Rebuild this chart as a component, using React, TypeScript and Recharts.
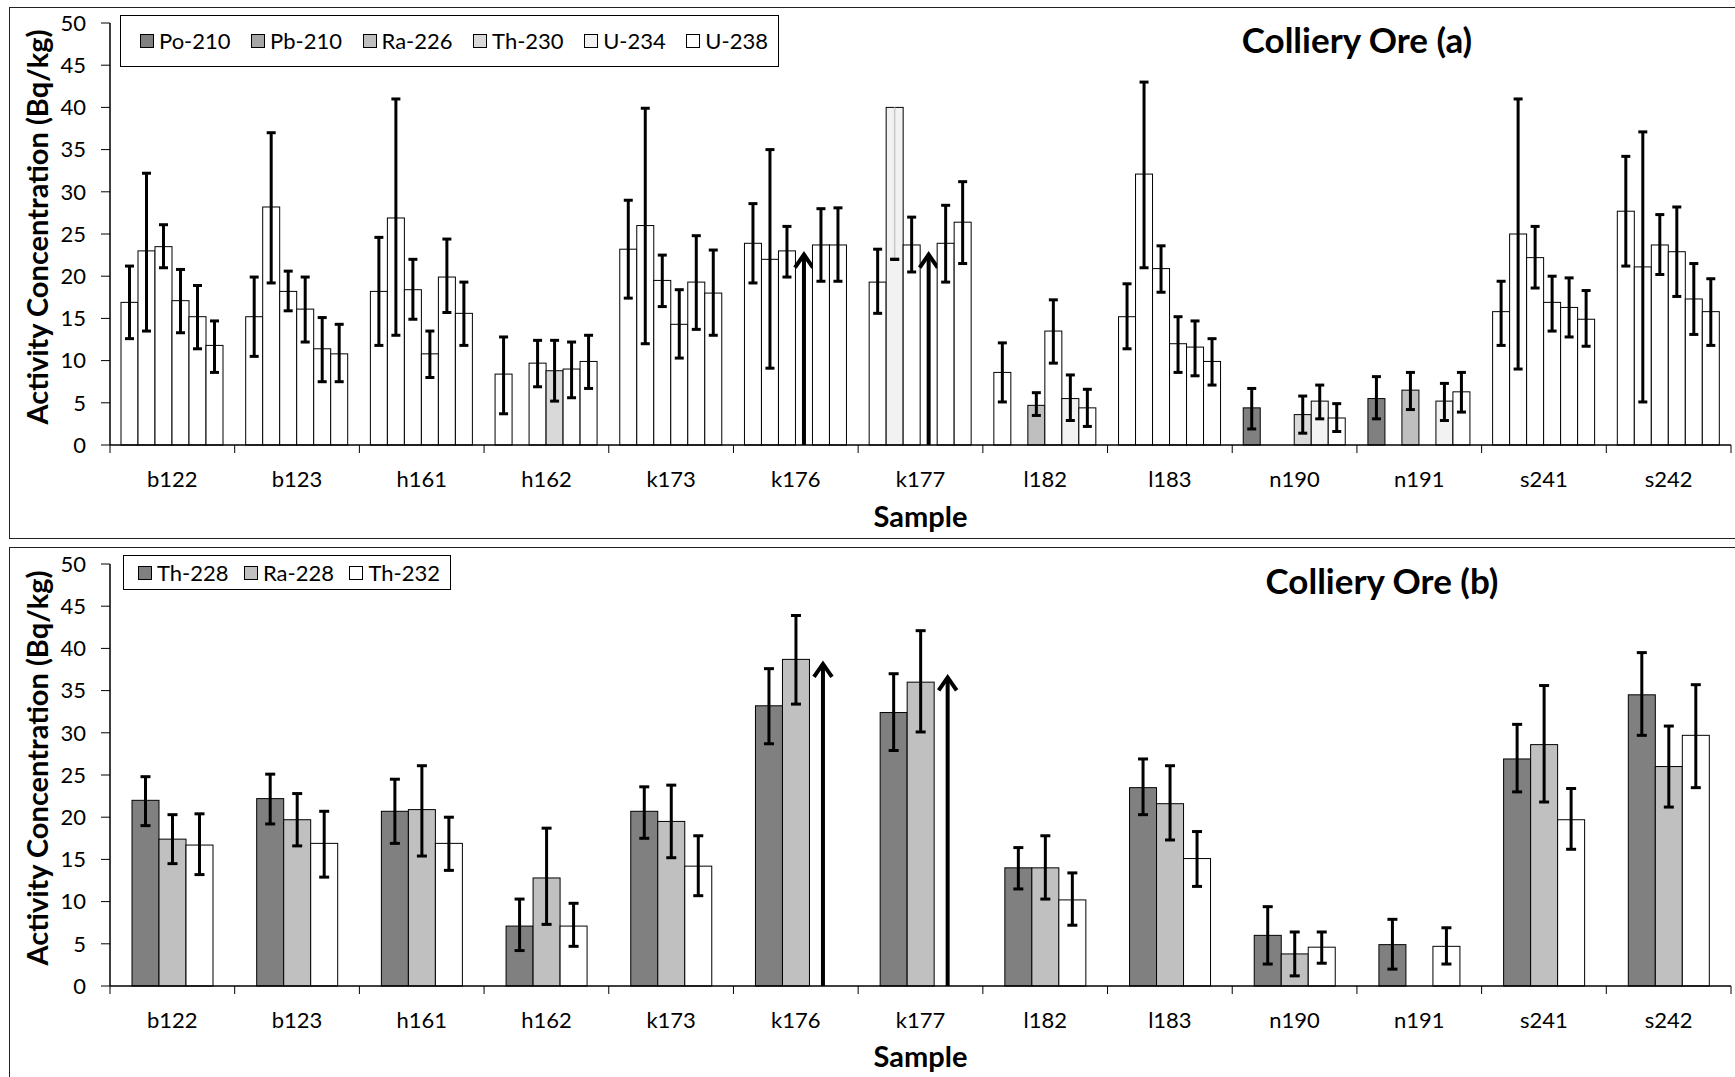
import React from 'react';
import { BarChart, Bar, XAxis, YAxis, ErrorBar } from 'recharts';

const FONT = 'Lato, "Open Sans", sans-serif';

const samples = ['b122', 'b123', 'h161', 'h162', 'k173', 'k176', 'k177', 'l182', 'l183', 'n190', 'n191', 's241', 's242'];
const yTicks = [0, 5, 10, 15, 20, 25, 30, 35, 40, 45, 50];

// (a) activity in Bq/kg: bar value, then lower / upper end of its error bar
const po210 = [16.9, 15.2, 18.2, 8.4, 23.2, 23.9, 19.3, 8.6, 15.2, 4.4, 5.5, 15.8, 27.7];
const po210Lo = [12.6, 10.5, 11.8, 3.7, 17.4, 19.2, 15.6, 5.1, 11.4, 1.9, 3.1, 11.8, 21.2];
const po210Hi = [21.2, 19.9, 24.6, 12.8, 29.0, 28.6, 23.2, 12.1, 19.1, 6.7, 8.1, 19.4, 34.2];

const pb210 = [23.0, 28.2, 26.9, null, 26.0, 22.0, 40.0, null, 32.1, null, null, 25.0, 21.1];
const pb210Lo = [13.5, 19.2, 13.0, null, 12.0, 9.1, 22.0, null, 21.0, null, null, 9.0, 5.1];
const pb210Hi = [32.2, 37.0, 41.0, null, 39.9, 35.0, 40.0, null, 43.0, null, null, 41.0, 37.1];

const ra226 = [23.5, 18.2, 18.4, 9.7, 19.5, 23.0, 23.7, 4.7, 20.9, null, 6.5, 22.2, 23.7];
const ra226Lo = [21.0, 15.9, 14.9, 6.9, 16.4, 19.9, 20.5, 3.5, 18.1, null, 4.2, 18.6, 20.2];
const ra226Hi = [26.1, 20.6, 22.0, 12.4, 22.5, 25.9, 27.0, 6.2, 23.6, null, 8.6, 25.9, 27.3];

const th230 = [17.1, 16.1, 10.8, 8.8, 14.3, null, null, 13.5, 12.0, 3.6, null, 16.9, 22.9];
const th230Lo = [13.3, 12.2, 8.0, 5.2, 10.3, null, null, 9.7, 8.6, 1.4, null, 13.5, 17.6];
const th230Hi = [20.8, 19.9, 13.5, 12.4, 18.4, null, null, 17.2, 15.2, 5.8, null, 20.0, 28.2];
// lower limits drawn as arrows
const th230Arrow = [null, null, null, null, null, 22.8, 22.8, null, null, null, null, null, null];

const u234 = [15.2, 11.4, 19.9, 9.0, 19.3, 23.7, 23.9, 5.5, 11.6, 5.2, 5.2, 16.3, 17.3];
const u234Lo = [11.4, 7.5, 15.7, 5.6, 13.7, 19.4, 19.3, 2.9, 8.2, 3.1, 2.9, 12.8, 13.1];
const u234Hi = [18.9, 15.1, 24.4, 12.2, 24.8, 28.0, 28.4, 8.3, 14.7, 7.1, 7.3, 19.8, 21.5];

const u238 = [11.8, 10.8, 15.6, 9.9, 18.0, 23.7, 26.4, 4.4, 9.9, 3.2, 6.3, 14.9, 15.8];
const u238Lo = [8.6, 7.5, 11.8, 6.7, 13.0, 19.4, 21.5, 2.2, 7.1, 1.6, 3.9, 11.7, 11.8];
const u238Hi = [14.7, 14.3, 19.3, 13.0, 23.1, 28.1, 31.2, 6.6, 12.6, 4.9, 8.6, 18.3, 19.7];

// (b) thorium series
const th228 = [22.0, 22.2, 20.7, 7.1, 20.7, 33.2, 32.4, 14.0, 23.5, 6.0, 4.9, 26.9, 34.5];
const th228Lo = [19.0, 19.2, 16.9, 4.2, 17.5, 28.7, 27.9, 11.5, 20.3, 2.6, 2.0, 23.0, 29.7];
const th228Hi = [24.8, 25.1, 24.5, 10.3, 23.6, 37.6, 37.0, 16.4, 26.9, 9.4, 7.9, 31.0, 39.5];

const ra228 = [17.4, 19.7, 20.9, 12.8, 19.5, 38.7, 36.0, 14.0, 21.6, 3.8, null, 28.6, 26.0];
const ra228Lo = [14.5, 16.6, 15.4, 7.3, 15.2, 33.4, 30.1, 10.3, 17.3, 1.2, null, 21.8, 21.2];
const ra228Hi = [20.3, 22.8, 26.1, 18.7, 23.8, 43.9, 42.1, 17.8, 26.1, 6.4, null, 35.6, 30.8];

const th232 = [16.7, 16.9, 16.9, 7.1, 14.2, null, null, 10.2, 15.1, 4.6, 4.7, 19.7, 29.7];
const th232Lo = [13.2, 12.9, 13.7, 4.7, 10.7, null, null, 7.2, 11.8, 2.7, 2.6, 16.2, 23.5];
const th232Hi = [20.4, 20.7, 20.0, 9.8, 17.8, null, null, 13.4, 18.3, 6.4, 6.9, 23.4, 35.7];
const th232Arrow = [null, null, null, null, null, 38.4, 36.8, null, null, null, null, null, null];

// in (a) most bars are drawn white; these samples keep the legend shade
const poShaded = ['n190', 'n191'];
const raShaded = ['l182', 'n191'];
const thShaded = ['h162', 'n190'];
const u234Shaded = ['l182', 'n190', 'n191'];
const pbPale = ['k177'];

const C = {
  po: '#808080', pb: '#a6a6a6', ra: '#bfbfbf', th: '#d9d9d9', u4: '#f2f2f2', u8: '#ffffff',
  th228: '#808080', ra228: '#c0c0c0', th232: '#ffffff',
};

type V = number | null;
const err = (v: V, lo: V, hi: V) =>
  v == null || lo == null || hi == null ? null : [+(v - lo).toFixed(2), +(hi - v).toFixed(2)];

const topRows = samples.map((s, i) => ({
  sample: s,
  po: po210[i], poErr: err(po210[i], po210Lo[i], po210Hi[i]),
  pb: pb210[i], pbErr: err(pb210[i], pb210Lo[i], pb210Hi[i]), pbPale: pbPale.includes(s),
  ra: ra226[i], raErr: err(ra226[i], ra226Lo[i], ra226Hi[i]),
  th: th230[i] ?? th230Arrow[i], thErr: err(th230[i], th230Lo[i], th230Hi[i]), thArrow: th230Arrow[i] != null,
  u4: u234[i], u4Err: err(u234[i], u234Lo[i], u234Hi[i]),
  u8: u238[i], u8Err: err(u238[i], u238Lo[i], u238Hi[i]),
}));

const bottomRows = samples.map((s, i) => ({
  sample: s,
  t8: th228[i], t8Err: err(th228[i], th228Lo[i], th228Hi[i]),
  r8: ra228[i], r8Err: err(ra228[i], ra228Lo[i], ra228Hi[i]),
  t2: th232[i] ?? th232Arrow[i], t2Err: err(th232[i], th232Lo[i], th232Hi[i]), t2Arrow: th232Arrow[i] != null,
}));

const W = 1735;
const PLOT_LEFT = 110;
const PLOT_RIGHT = 4;
const HALF_BAND = (W - PLOT_LEFT - PLOT_RIGHT) / samples.length / 2;
const TICK_SIZE = 8;
const TICK_MARGIN = 18;

const shadeOf = (list: string[], color: string) => (p: any) => (list.includes(p.sample) ? color : '#ffffff');

function makeShape(fillOf: (payload: any) => string, arrowKey?: string) {
  return (props: any) => {
    const { x, y, width, height, payload } = props;
    if (!height || height <= 0 || payload == null) return <g />;
    if (arrowKey && payload[arrowKey]) {
      const cx = x + width / 2;
      return (
        <g>
          <line x1={cx} x2={cx} y1={y + height} y2={y + 2} stroke="#000" strokeWidth={4} />
          <polyline points={`${cx - 9},${y + 15} ${cx},${y + 2} ${cx + 9},${y + 15}`} fill="none" stroke="#000" strokeWidth={4} />
        </g>
      );
    }
    return <rect x={x} y={y} width={width} height={height} fill={fillOf(payload)} stroke="#000" strokeWidth={1} />;
  };
}

function SampleTick(props: any) {
  const { x, y, payload, index } = props;
  const axisY = y - TICK_SIZE - TICK_MARGIN;
  return (
    <g>
      <line x1={x - HALF_BAND} x2={x - HALF_BAND} y1={axisY} y2={axisY + TICK_SIZE} stroke="#000" />
      {index === samples.length - 1 && (
        <line x1={x + HALF_BAND} x2={x + HALF_BAND} y1={axisY} y2={axisY + TICK_SIZE} stroke="#000" />
      )}
      <text x={x} y={y} dy="0.71em" textAnchor="middle" fontSize={22} fontFamily={FONT} fill="#000">
        {payload.value}
      </text>
    </g>
  );
}

// baseline sits `shift` px above the bottom of the axis box
function SampleLabel(props: any) {
  const { viewBox, shift } = props;
  return (
    <text x={viewBox.x + viewBox.width / 2} y={viewBox.y + viewBox.height - shift} textAnchor="middle"
      fontSize={29} fontWeight="bold" fontFamily={FONT} fill="#000">
      Sample
    </text>
  );
}

function ConcLabel(props: any) {
  const { viewBox } = props;
  const cx = viewBox.x + 36;
  const cy = viewBox.y + viewBox.height / 2 - 7;
  return (
    <text x={cx} y={cy} transform={`rotate(-90 ${cx} ${cy})`} textAnchor="middle" dominantBaseline="central"
      fontSize={29} fontWeight="bold" fontFamily={FONT} fill="#000">
      Activity Concentration (Bq/kg)
    </text>
  );
}

const tickStyle = { fontSize: 22, fontFamily: FONT, fill: '#000' };

function LegendBox({ items, style }: { items: { name: string; color: string }[]; style: React.CSSProperties }) {
  return (
    <div style={{ position: 'absolute', border: '1px solid #000', background: '#fff', display: 'flex', alignItems: 'center',
      justifyContent: 'space-between', boxSizing: 'border-box', whiteSpace: 'nowrap', ...style }}>
      {items.map((it) => (
        <div key={it.name} style={{ display: 'flex', alignItems: 'center', flexShrink: 0 }}>
          <span style={{ display: 'inline-block', width: 12, height: 12, border: '1px solid #000', background: it.color, marginRight: 5 }} />
          <span style={{ fontSize: 22, lineHeight: 1 }}>{it.name}</span>
        </div>
      ))}
    </div>
  );
}

const titleStyle: React.CSSProperties = {
  position: 'absolute', transform: 'translate(-50%, -50%)', fontSize: 35, fontWeight: 'bold', whiteSpace: 'nowrap', lineHeight: 1,
};

const errProps = { stroke: '#000', strokeWidth: 3, width: 4.5 };

export default function App() {
  return (
    <div style={{ position: 'absolute', left: 0, top: 0, width: W, height: 1077, background: '#fff', fontFamily: FONT, color: '#000', overflow: 'hidden' }}>
      <div style={{ position: 'absolute', left: 9, top: 7, width: 1740, height: 532, border: '1px solid #222', boxSizing: 'border-box' }} />
      <div style={{ position: 'absolute', left: 9, top: 547, width: 1740, height: 560, border: '1px solid #222', boxSizing: 'border-box' }} />

      <div style={{ position: 'absolute', left: 0, top: 0 }}>
        <BarChart width={W} height={540} data={topRows} barSize={17} barGap={0}
          margin={{ top: 23, right: PLOT_RIGHT, bottom: 0, left: 0 }}>
          <YAxis type="number" domain={[0, 50]} ticks={yTicks} width={PLOT_LEFT} tickSize={9} tickMargin={15}
            tick={tickStyle} axisLine={{ stroke: '#000', strokeWidth: 1.5 }} tickLine={{ stroke: '#000' }}
            label={<ConcLabel />} />
          <XAxis dataKey="sample" height={95} interval={0} tickLine={false} tickSize={TICK_SIZE} tickMargin={TICK_MARGIN}
            tick={<SampleTick />} axisLine={{ stroke: '#000', strokeWidth: 1.5 }} label={<SampleLabel shift={13} />} />
          <Bar dataKey="po" isAnimationActive={false} shape={makeShape(shadeOf(poShaded, C.po))}>
            <ErrorBar dataKey="poErr" {...errProps} />
          </Bar>
          <Bar dataKey="pb" isAnimationActive={false} shape={makeShape((p) => (p.pbPale ? C.u4 : '#ffffff'))}>
            <ErrorBar dataKey={(d: any) => (d.pbPale ? null : d.pbErr)} {...errProps} />
            <ErrorBar dataKey={(d: any) => (d.pbPale ? d.pbErr?.map((e: number, k: number) => (k ? 0 : e)) : null)} stroke="#c8c8c8" strokeWidth={1.5} width={0} />
            <ErrorBar dataKey={(d: any) => (d.pbPale ? [d.pbErr[0], -d.pbErr[0]] : null)} {...errProps} />
          </Bar>
          <Bar dataKey="ra" isAnimationActive={false} shape={makeShape(shadeOf(raShaded, C.ra))}>
            <ErrorBar dataKey="raErr" {...errProps} />
          </Bar>
          <Bar dataKey="th" isAnimationActive={false} shape={makeShape(shadeOf(thShaded, C.th), 'thArrow')}>
            <ErrorBar dataKey="thErr" {...errProps} />
          </Bar>
          <Bar dataKey="u4" isAnimationActive={false} shape={makeShape(shadeOf(u234Shaded, C.u4))}>
            <ErrorBar dataKey="u4Err" {...errProps} />
          </Bar>
          <Bar dataKey="u8" isAnimationActive={false} shape={makeShape(() => C.u8)}>
            <ErrorBar dataKey="u8Err" {...errProps} />
          </Bar>
        </BarChart>
      </div>

      <div style={{ position: 'absolute', left: 0, top: 540 }}>
        <BarChart width={W} height={537} data={bottomRows} barSize={27} barGap={0}
          margin={{ top: 24, right: PLOT_RIGHT, bottom: 0, left: 0 }}>
          <YAxis type="number" domain={[0, 50]} ticks={yTicks} width={PLOT_LEFT} tickSize={9} tickMargin={15}
            tick={tickStyle} axisLine={{ stroke: '#000', strokeWidth: 1.5 }} tickLine={{ stroke: '#000' }}
            label={<ConcLabel />} />
          <XAxis dataKey="sample" height={91} interval={0} tickLine={false} tickSize={TICK_SIZE} tickMargin={TICK_MARGIN}
            tick={<SampleTick />} axisLine={{ stroke: '#000', strokeWidth: 1.5 }} label={<SampleLabel shift={10} />} />
          <Bar dataKey="t8" isAnimationActive={false} shape={makeShape(() => C.th228)}>
            <ErrorBar dataKey="t8Err" {...errProps} width={5} />
          </Bar>
          <Bar dataKey="r8" isAnimationActive={false} shape={makeShape(() => C.ra228)}>
            <ErrorBar dataKey="r8Err" {...errProps} width={5} />
          </Bar>
          <Bar dataKey="t2" isAnimationActive={false} shape={makeShape(() => C.th232, 't2Arrow')}>
            <ErrorBar dataKey="t2Err" {...errProps} width={5} />
          </Bar>
        </BarChart>
      </div>

      <LegendBox style={{ left: 120, top: 15, width: 659, height: 52, paddingLeft: 19, paddingRight: 10 }} items={[
        { name: 'Po-210', color: C.po }, { name: 'Pb-210', color: C.pb }, { name: 'Ra-226', color: C.ra },
        { name: 'Th-230', color: C.th }, { name: 'U-234', color: C.u4 }, { name: 'U-238', color: C.u8 },
      ]} />
      <LegendBox style={{ left: 123, top: 555, width: 328, height: 35, paddingLeft: 14, paddingRight: 10 }} items={[
        { name: 'Th-228', color: C.th228 }, { name: 'Ra-228', color: C.ra228 }, { name: 'Th-232', color: C.th232 },
      ]} />

      <div style={{ ...titleStyle, left: 1357, top: 39 }}>Colliery Ore (a)</div>
      <div style={{ ...titleStyle, left: 1382, top: 580 }}>Colliery Ore (b)</div>
    </div>
  );
}
